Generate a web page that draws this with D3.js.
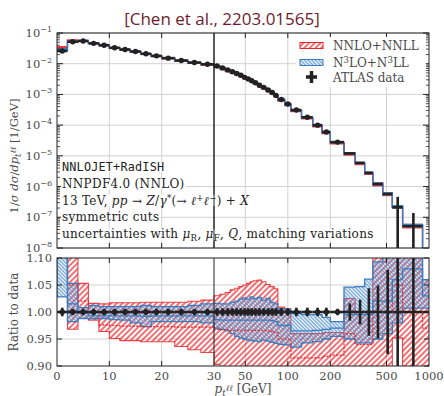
<!DOCTYPE html>
<html>
<head>
<meta charset="utf-8">
<script src="https://cdn.jsdelivr.net/npm/d3@7"></script>
<style>
  html, body { margin: 0; padding: 0; background: #fff; }
  svg { display: block; }
</style>
</head>
<body>
<div id="chart"></div>
<script>
// Bin edges of the p_t^ll distribution (GeV)
const binEdges = [0, 2, 4, 6, 8, 10, 12, 14, 16, 18, 20, 22.5, 25, 27.5, 30, 33, 36, 39, 42, 45, 48, 51, 54, 57,
    61, 65, 70, 75, 80, 85, 95, 105, 125, 150, 175, 200, 250, 300, 350, 400, 470, 550, 650, 900, 2500];
// ATLAS data: 1/sigma dsigma/dpt [1/GeV] and relative uncertainty
const dataValues = [0.026, 0.052, 0.055, 0.046, 0.040, 0.033, 0.029, 0.025, 0.021, 0.018,
    0.0152, 0.0127, 0.0109, 0.0096, 0.0084, 0.0073, 0.0063, 0.0055, 0.0048, 0.0042,
    0.0036, 0.0032, 0.0028, 0.0024, 0.0020, 0.0017, 0.0014, 0.00115, 0.00093, 0.00068,
    0.00049, 0.00031, 0.00018, 0.0001, 6.0e-5, 2.8e-5, 1.2e-5, 5.9e-6, 2.8e-6, 1.2e-6,
    5.7e-7, 2.1e-7, 5.1e-8, 4e-9];
const dataErrors = [0.008, 0.006, 0.006, 0.006, 0.006, 0.006, 0.006, 0.006, 0.006, 0.006,
    0.006, 0.006, 0.006, 0.006, 0.007, 0.007, 0.007, 0.007, 0.007, 0.007,
    0.007, 0.007, 0.007, 0.007, 0.007, 0.007, 0.007, 0.007, 0.007, 0.007,
    0.007, 0.008, 0.008, 0.008, 0.008, 0.006, 0.016, 0.023, 0.044, 0.049,
    0.078, 1.2, 1.7, 3.0];
// NNLO+NNLL: ratio to data (band edges and central value)
const nnloHi = [1.38, 1.15, 1.053, 1.016, 1.015, 1.017, 1.017, 1.017, 1.018, 1.018,
    1.018, 1.018, 1.020, 1.022, 1.030, 1.033, 1.036, 1.041, 1.044, 1.047,
    1.050, 1.053, 1.056, 1.058, 1.059, 1.056, 1.051, 1.047, 1.043, 1.009,
    1.006, 0.960, 0.960, 0.960, 0.962, 0.962, 1.025, 1.000, 1.000, 1.120,
    1.120, 1.150, 1.150, 1.060];
const nnloLo = [1.25, 0.968, 0.988, 0.985, 0.964, 0.951, 0.947, 0.947, 0.945, 0.945,
    0.945, 0.936, 0.930, 0.925, 0.903, 0.88, 0.88, 0.88, 0.88, 0.88,
    0.88, 0.88, 0.88, 0.88, 0.88, 0.88, 0.88, 0.88, 0.88, 0.88,
    0.88, 0.88, 0.88, 0.88, 0.88, 0.88, 0.88, 0.88, 0.88, 0.88,
    0.88, 0.952, 0.88, 0.88];
const nnloMid = [1.32, 1.05, 1.02, 1.0, 0.976, 0.975, 0.974, 0.974, 0.973, 0.973,
    0.973, 0.972, 0.972, 0.972, 0.968, 0.967, 0.967, 0.966, 0.966, 0.966,
    0.966, 0.966, 0.966, 0.966, 0.966, 0.966, 0.965, 0.964, 0.962, 0.95,
    0.95, 0.915, 0.915, 0.915, 0.918, 0.92, 0.96, 0.94, 0.94, 1.0,
    1.0, 1.05, 1.0, 0.97];
// N3LO+N3LL: ratio to data (band edges and central value)
const n3loHi = [1.22, 1.053, 1.008, 1.012, 1.010, 1.010, 1.010, 1.010, 1.012, 1.010,
    1.010, 1.010, 1.012, 1.015, 1.016, 1.015, 1.015, 1.018, 1.020, 1.024,
    1.026, 1.024, 1.028, 1.025, 1.027, 1.022, 1.025, 1.018, 1.015, 1.006,
    1.005, 0.997, 0.995, 0.995, 0.990, 0.982, 1.046, 1.047, 1.061, 1.093,
    1.12, 1.15, 1.15, 1.06];
const n3loLo = [1.028, 0.982, 0.988, 0.988, 0.988, 0.986, 0.985, 0.980, 0.973, 0.982,
    0.982, 0.982, 0.982, 0.980, 0.970, 0.968, 0.965, 0.960, 0.955, 0.952,
    0.950, 0.948, 0.947, 0.946, 0.945, 0.948, 0.946, 0.944, 0.942, 0.940,
    0.939, 0.935, 0.943, 0.945, 0.950, 0.955, 0.950, 0.943, 0.943, 0.950,
    0.960, 0.980, 1.007, 1.007];
const n3loMid = [1.12, 1.015, 0.998, 0.993, 0.993, 0.993, 0.993, 0.993, 0.992, 0.993,
    0.993, 0.993, 0.993, 0.993, 0.986, 0.985, 0.985, 0.985, 0.985, 0.985,
    0.985, 0.985, 0.985, 0.985, 0.985, 0.985, 0.985, 0.984, 0.982, 0.975,
    0.975, 0.965, 0.965, 0.966, 0.968, 0.97, 0.995, 0.995, 0.995, 1.02,
    1.02, 1.06, 1.08, 1.03];
// Tick values
const xTicks = [0, 10, 20, 30, 50, 100, 200, 500, 1000];
const xGrid = [10, 20, 50, 100, 200, 500];
const yDecades = [-8, -7, -6, -5, -4, -3, -2, -1];
const ratioTicks = [0.90, 0.95, 1.00, 1.05, 1.10];

const Width = 444, Height = 396;
const Left = 57, Right = 429, Top = 33, Bottom = 248, RTop = 258, RBottom = 366;
const Red = "#e8262a", Blue = "#3a7cc0", Ink = "#222", Grey = "#4a4a4a", GridColor = "#d2d2d2";
const Serif = "'DejaVu Serif', serif";

// Piecewise x: linear up to 30 GeV, logarithmic above
const xLin = d3.scaleLinear().domain([0, 30]).range([Left, 214]);
const xLog = d3.scaleLog().domain([30, 1000]).range([214, Right]);
const X = (v) => v <= 30 ? xLin(v) : xLog(v);
const yMain = d3.scaleLog().domain([1e-8, 1e-1]).range([Bottom, Top]);
const yRatio = d3.scaleLinear().domain([0.9, 1.1]).range([RBottom, RTop]);

const svg = d3.select("#chart").append("svg").attr("width", Width).attr("height", Height);
const defs = svg.append("defs");
// Hatch patterns
var RedHatch = defs.append("pattern").attr("id", "hatchRed").attr("patternUnits", "userSpaceOnUse")
    .attr("width", 4).attr("height", 4).attr("patternTransform", "rotate(45)");
RedHatch.append("line").attr("x1", 1).attr("y1", 0).attr("x2", 1).attr("y2", 4)
    .attr("stroke", Red).attr("stroke-width", 1.3);
var BlueHatch = defs.append("pattern").attr("id", "hatchBlue").attr("patternUnits", "userSpaceOnUse")
    .attr("width", 2.6).attr("height", 2.6).attr("patternTransform", "rotate(-45)");
BlueHatch.append("line").attr("x1", 1).attr("y1", 0).attr("x2", 1).attr("y2", 2.6)
    .attr("stroke", "#4d8ed0").attr("stroke-width", 1.1);
defs.append("clipPath").attr("id", "clipMain").append("rect")
    .attr("x", Left).attr("y", Top).attr("width", Right - Left).attr("height", Bottom - Top);
defs.append("clipPath").attr("id", "clipRatio").append("rect")
    .attr("x", Left).attr("y", RTop).attr("width", Right - Left).attr("height", RBottom - RTop);

const Bins = d3.range(dataValues.length).map((I) => ({
    Lo: binEdges[I], Hi: binEdges[I + 1], Center: (binEdges[I] + binEdges[I + 1]) / 2,
    Value: dataValues[I], Error: dataErrors[I] }));

/** BandPath: closed step outline of a band. */
function BandPath(Lo, Hi, Y, Scale) {
    var Points = [];
    Bins.forEach((B, I) => { Points.push([X(B.Lo), Y(Hi[I] * Scale(I))], [X(B.Hi), Y(Hi[I] * Scale(I))]); });
    for (var I = Bins.length - 1; I >= 0; I--) {
        var B = Bins[I];
        Points.push([X(B.Hi), Y(Lo[I] * Scale(I))], [X(B.Lo), Y(Lo[I] * Scale(I))]);
    }
    return d3.line()(Points) + "Z";
}
/** StepPath: step line of central values. */
function StepPath(Mid, Y, Scale) {
    var Points = [];
    Bins.forEach((B, I) => { Points.push([X(B.Lo), Y(Mid[I] * Scale(I))], [X(B.Hi), Y(Mid[I] * Scale(I))]); });
    return d3.line()(Points);
}

/** DrawPanel: grid, bands, central lines and data for one panel. */
function DrawPanel(Y, Clip, PTop, PBottom, Scale, IsRatio) {
    var Grid = svg.append("g");
    xGrid.forEach((V) => Grid.append("line").attr("x1", X(V)).attr("x2", X(V))
        .attr("y1", PTop).attr("y2", PBottom).attr("stroke", GridColor));
    var Layer = svg.append("g").attr("clip-path", `url(#${Clip})`);
    // Bands
    Layer.append("path").attr("d", BandPath(nnloLo, nnloHi, Y, Scale))
        .attr("fill", "url(#hatchRed)").attr("stroke", Red).attr("stroke-width", 1.1).attr("stroke-opacity", 0.85);
    Layer.append("path").attr("d", BandPath(n3loLo, n3loHi, Y, Scale))
        .attr("fill", "url(#hatchBlue)").attr("stroke", Blue).attr("stroke-width", 1.3);
    // Central values
    Layer.append("path").attr("d", StepPath(nnloMid, Y, Scale)).attr("fill", "none")
        .attr("stroke", Red).attr("stroke-width", 1.2).attr("stroke-dasharray", IsRatio ? "2,1.5" : null);
    Layer.append("path").attr("d", StepPath(n3loMid, Y, Scale)).attr("fill", "none")
        .attr("stroke", Blue).attr("stroke-width", 1.3);
    // Boundary between linear and log
    svg.append("line").attr("x1", X(30)).attr("x2", X(30)).attr("y1", PTop).attr("y2", PBottom)
        .attr("stroke", Ink).attr("stroke-width", 1);
    // Data
    var Data = svg.append("g").attr("clip-path", `url(#${Clip})`);
    Bins.forEach((B, I) => {
        var Val = IsRatio ? 1 : B.Value;
        var Up = Val * (1 + B.Error), Down = Val * (1 - B.Error);
        var YDown = Down > 0 ? Y(Down) : PBottom + 5;
        Data.append("line").attr("x1", X(B.Lo)).attr("x2", X(B.Hi)).attr("y1", Y(Val)).attr("y2", Y(Val))
            .attr("stroke", Ink).attr("stroke-width", 2.6);
        Data.append("line").attr("x1", X(B.Center)).attr("x2", X(B.Center)).attr("y1", Y(Up)).attr("y2", YDown)
            .attr("stroke", Ink).attr("stroke-width", 2.6);
        if (B.Center < 260)
            Data.append("circle").attr("cx", X(B.Center)).attr("cy", Y(Val)).attr("r", 2.7).attr("fill", Ink);
    });
    // Frame and x ticks
    svg.append("rect").attr("x", Left).attr("y", PTop).attr("width", Right - Left).attr("height", PBottom - PTop)
        .attr("fill", "none").attr("stroke", Ink).attr("stroke-width", 1);
    xGrid.forEach((V) => {
        svg.append("line").attr("x1", X(V)).attr("x2", X(V)).attr("y1", PTop).attr("y2", PTop + 5).attr("stroke", Ink);
        svg.append("line").attr("x1", X(V)).attr("x2", X(V)).attr("y1", PBottom).attr("y2", PBottom - 5).attr("stroke", Ink);
    });
}

// Upper panel horizontal grid
yDecades.forEach((E) => svg.append("line").attr("x1", Left).attr("x2", Right)
    .attr("y1", yMain(Math.pow(10, E))).attr("y2", yMain(Math.pow(10, E))).attr("stroke", GridColor));
DrawPanel(yMain, "clipMain", Top, Bottom, (I) => dataValues[I], false);
// Ratio panel horizontal grid
[0.95, 1.05].forEach((R) => svg.append("line").attr("x1", Left).attr("x2", Right)
    .attr("y1", yRatio(R)).attr("y2", yRatio(R)).attr("stroke", GridColor).lower());
DrawPanel(yRatio, "clipRatio", RTop, RBottom, (I) => 1, true);

// Upper y ticks (log, with minors)
yDecades.forEach((E) => {
    var Y0 = yMain(Math.pow(10, E));
    [Left, Right].forEach((Side) => {
        var Dir = Side == Left ? 1 : -1;
        svg.append("line").attr("x1", Side).attr("x2", Side + Dir * 6).attr("y1", Y0).attr("y2", Y0).attr("stroke", Ink);
        if (E > -8) {
            for (var M = 2; M <= 9; M++) {
                var YM = yMain(M * Math.pow(10, E - 1));
                svg.append("line").attr("x1", Side).attr("x2", Side + Dir * 3).attr("y1", YM).attr("y2", YM)
                    .attr("stroke", Ink).attr("stroke-width", 0.8);
            }
        }
    });
    var Label = svg.append("text").attr("x", 52).attr("y", Y0 + 4).attr("text-anchor", "end")
        .attr("font-family", Serif).attr("font-size", 11.5).attr("fill", Grey);
    Label.append("tspan").text("10");
    Label.append("tspan").attr("dy", -5).attr("font-size", 8).text("\u2212" + (-E));
});
// Ratio y ticks
ratioTicks.forEach((R) => {
    var Y0 = yRatio(R);
    svg.append("line").attr("x1", Left).attr("x2", Left + 5).attr("y1", Y0).attr("y2", Y0).attr("stroke", Ink);
    svg.append("line").attr("x1", Right).attr("x2", Right - 5).attr("y1", Y0).attr("y2", Y0).attr("stroke", Ink);
    svg.append("text").attr("x", 52).attr("y", Y0 + 4).attr("text-anchor", "end")
        .attr("font-family", Serif).attr("font-size", 11.5).attr("fill", Grey).text(d3.format(".2f")(R));
});
// X tick labels
xTicks.forEach((V) => svg.append("text").attr("x", X(V)).attr("y", 380).attr("text-anchor", "middle")
    .attr("font-family", Serif).attr("font-size", 11.5).attr("fill", Grey).text(V));

/** RichText: write text made of styled parts. */
function RichText(Sel, Parts) {
    Parts.forEach((P) => {
        var T = Sel.append("tspan").text(P.t);
        if (P.i) T.attr("font-style", "italic");
        if (P.sub) T.attr("font-size", "72%").attr("dy", 2.5);
        if (P.sup) T.attr("font-size", "72%").attr("dy", -4.5);
        if (P.back) T.attr("dy", P.back);
    });
    return Sel;
}

// Axis titles
RichText(svg.append("text").attr("transform", "translate(18,156) rotate(-90)").attr("text-anchor", "middle")
    .attr("font-family", Serif).attr("font-size", 11.5).attr("fill", Grey), [
    { t: "1/" }, { t: "\u03c3 d\u03c3", i: true }, { t: "/" }, { t: "dp", i: true }, { t: "t", i: true, sub: true },
    { t: "\u2113\u2113", i: true, sup: true }, { t: " [1/GeV]", back: 2 }]);
svg.append("text").attr("transform", `translate(18,${yRatio(1)}) rotate(-90)`).attr("text-anchor", "middle")
    .attr("font-family", Serif).attr("font-size", 12).attr("fill", Grey).text("Ratio to data");
RichText(svg.append("text").attr("x", (Left + Right) / 2).attr("y", 393).attr("text-anchor", "middle")
    .attr("font-family", Serif).attr("font-size", 12).attr("fill", Grey), [
    { t: "p", i: true }, { t: "t", i: true, sub: true }, { t: "\u2113\u2113", i: true, sup: true }, { t: " [GeV]", back: 2 }]);

// Title
svg.append("text").attr("x", 222).attr("y", 25).attr("text-anchor", "middle")
    .attr("font-family", "'Open Sans', sans-serif").attr("font-size", 17).attr("fill", "#6e1c2c")
    .text("[Chen et al., 2203.01565]");

// Legend
svg.append("rect").attr("x", 296).attr("y", 37).attr("width", 130).attr("height", 50).attr("fill", "#fff");
svg.append("rect").attr("x", 300).attr("y", 42.5).attr("width", 23).attr("height", 6)
    .attr("fill", "url(#hatchRed)").attr("stroke", Red).attr("stroke-width", 1);
svg.append("rect").attr("x", 300).attr("y", 59.5).attr("width", 23).attr("height", 6)
    .attr("fill", "url(#hatchBlue)").attr("stroke", Blue).attr("stroke-width", 1);
svg.append("line").attr("x1", 306).attr("x2", 317).attr("y1", 77).attr("y2", 77).attr("stroke", Ink).attr("stroke-width", 3.5);
svg.append("line").attr("x1", 311.5).attr("x2", 311.5).attr("y1", 71).attr("y2", 83).attr("stroke", Ink).attr("stroke-width", 3.5);
var LegendText = (Y) => svg.append("text").attr("x", 333).attr("y", Y)
    .attr("font-family", Serif).attr("font-size", 12).attr("fill", Grey);
LegendText(50).text("NNLO+NNLL");
RichText(LegendText(67), [{ t: "N" }, { t: "3", sup: true }, { t: "LO+N", back: 4.5 }, { t: "3", sup: true }, { t: "LL", back: 4.5 }]);
LegendText(82).text("ATLAS data");

// Annotations (each line on a white box)
var Notes = [
    { y: 171, mono: true, parts: [{ t: "NNLOJET+RadISH" }] },
    { y: 188, parts: [{ t: "NNPDF4.0 (NNLO)" }] },
    { y: 205, parts: [{ t: "13 TeV, " }, { t: "pp", i: true }, { t: " \u2192 " }, { t: "Z", i: true }, { t: "/" },
        { t: "\u03b3", i: true }, { t: "*", sup: true }, { t: "(\u2192 ", back: 4.5 }, { t: "\u2113", i: true }, { t: "+", sup: true },
        { t: "\u2113", i: true, back: 4.5 }, { t: "\u2212", sup: true }, { t: ") + ", back: 4.5 }, { t: "X", i: true }] },
    { y: 221, parts: [{ t: "symmetric cuts" }] },
    { y: 238, parts: [{ t: "uncertainties with " }, { t: "\u03bc", i: true }, { t: "R", sub: true }, { t: ", ", back: -2.5 },
        { t: "\u03bc", i: true }, { t: "F", sub: true }, { t: ", ", back: -2.5 }, { t: "Q", i: true }, { t: ", matching variations" }] }
];
Notes.forEach((N) => {
    var Box = svg.insert("rect", null).attr("fill", "#fff");
    var T = RichText(svg.append("text").attr("x", 62).attr("y", N.y)
        .attr("font-family", N.mono ? "'DejaVu Sans Mono', monospace" : Serif)
        .attr("letter-spacing", N.mono ? 0.2 : 0.3)
        .attr("font-size", N.mono ? 11.8 : 12).attr("fill", Ink), N.parts);
    var BB = T.node().getBBox();
    Box.attr("x", BB.x - 1).attr("y", BB.y + 2).attr("width", BB.width + 2).attr("height", BB.height - 4);
});
// Redraw the 30 GeV boundary over the annotation boxes
svg.append("line").attr("x1", X(30)).attr("x2", X(30)).attr("y1", Top).attr("y2", Bottom).attr("stroke", Ink);
</script>
</body>
</html>
